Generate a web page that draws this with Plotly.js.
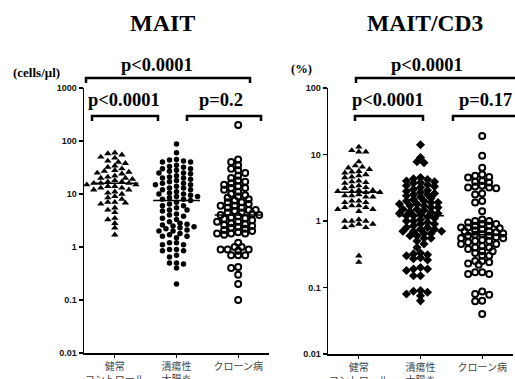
<!DOCTYPE html>
<html><head><meta charset="utf-8">
<script src="https://cdn.plot.ly/plotly-3.0.1.min.js"></script>
<style>html,body{margin:0;padding:0;background:#fff}#chart{width:515px;height:379px}</style>
</head><body><div id="chart"></div>
<script>
// ---- data ----
const categories = ["健常<br>コントロール", "潰瘍性<br>大腸炎", "クローン病"];
const yTickVals1 = [0.01, 0.1, 1, 10, 100, 1000];
const yTickText1 = ["0.01", "0.1", "1", "10", "100", "1000"];
const yTickVals2 = [0.01, 0.1, 1, 10, 100];
const yTickText2 = ["0.01", "0.1", "1", "10", "100"];

const maitHealthy = [60,55,58,48,50,42,40,38,32,30,28,34,26,25,24,22,27,21,20,19,20,18,17,16,16,15,16,17,15,14,13,14,12,13,12,11,10,10.5,9,8,8.5,7,7,6.5,6.8,5.5,5,4.5,3.5,3.3,2.8,2.3,1.7];
const maitUC = [88,60,45,44,42,40,40,35,33,32,30,30,28,27,25,25,24,22,21,20,20,19,18,17,16,16,15,15,14,13,13,12,12,11,10.5,10,10,9.5,9,9,8.5,8,8,7.5,7,6.5,6,6,5.5,5,5,4.8,4.2,4,3.8,3.5,3.3,3,2.8,2.7,2.6,2.5,2.4,2.3,2.2,2.1,2,2,1.8,1.7,1.6,1.6,1.5,1.2,1.2,1.1,1.1,0.9,0.9,0.85,0.85,0.7,0.65,0.5,0.5,0.48,0.4,0.2];
const maitCD = [200,45,40,35,30,28,25,22,20,18,17,16,15,14,13,13,12,11,10,9.5,9,8.5,8,7.5,7,7,6.5,6,6,5.5,5.5,5,5,4.8,4.5,4.5,4.2,4,4,3.8,3.6,3.5,3.4,3.2,3,3,2.8,2.7,2.6,2.5,2.4,2.3,2.2,2.1,2,1.9,1.8,1.8,1.8,1.7,1.2,1.0,1.0,0.9,0.9,0.85,0.9,0.7,0.7,0.7,0.42,0.4,0.3,0.2,0.1];
const cd3Healthy = [13,11.5,11,11,7.8,6.8,6.5,6.3,6,5.6,5.5,5.3,5,4.8,4.6,4.5,4,3.9,3.8,3.7,3.4,3.3,3.2,3.1,2.9,2.9,2.8,2.8,2.7,2.7,2.5,2.4,2.4,2.3,2.3,2.0,2.0,1.9,1.9,1.7,1.7,1.6,1.6,1.5,1.5,1.4,1.05,1.0,1.0,1.0,0.9,0.9,0.85,0.8,0.8,0.3,0.24];
const cd3UC = [14,9,7.5,7.8,4.5,4.3,4.2,4.0,3.9,3.8,3.7,3.5,3.4,3.3,3.2,3.0,2.9,2.8,2.7,2.6,2.5,2.5,2.4,2.3,2.2,2.1,2.0,2.0,1.9,1.9,1.8,1.8,1.7,1.7,1.6,1.6,1.5,1.5,1.45,1.4,1.35,1.3,1.3,1.25,1.2,1.2,1.15,1.1,1.05,1.0,1.0,0.95,0.9,0.9,0.85,0.8,0.8,0.75,0.75,0.7,0.7,0.7,0.65,0.65,0.6,0.6,0.55,0.55,0.5,0.45,0.4,0.33,0.32,0.31,0.3,0.28,0.27,0.26,0.19,0.19,0.18,0.2,0.15,0.15,0.09,0.088,0.085,0.08,0.075,0.063];
const cd3CD = [19,9.6,6.3,5,4.8,4.6,4.5,4.0,3.9,3.8,3.4,3.3,3.2,3.2,3.1,2.6,2.5,2.0,1.9,1.4,1.05,1.0,1.0,0.95,0.9,0.9,0.85,0.85,0.8,0.8,0.78,0.75,0.72,0.7,0.7,0.68,0.65,0.63,0.62,0.6,0.6,0.57,0.55,0.55,0.52,0.5,0.5,0.48,0.45,0.45,0.42,0.4,0.4,0.38,0.35,0.35,0.33,0.3,0.3,0.25,0.25,0.24,0.23,0.22,0.17,0.17,0.16,0.16,0.087,0.08,0.078,0.063,0.062,0.04];
const maitMedians = [16, 7.5, 4];
const cd3Medians = [2.7, 1.2, 0.62];
const pLabelsMait = ["p<0.0001", "p<0.0001", "p=0.2"];
const pLabelsCd3 = ["p<0.0001", "p<0.0001", "p=0.17"];

// ---- geometry (pixels, margins 0) ----
const W = 515, H = 379;
const PX = x => x / W, PY = y => 1 - y / H;
const catPx = 61.5; // pixels per category

// beeswarm with elliptical collision (points may overlap vertically, as in the reference)
function swarm(vals, pxPerDecade, dx0, dy0) {
  const idx = vals.map((v, i) => i).sort((a, b) => vals[b] - vals[a]);
  const placed = [];
  const off = new Array(vals.length).fill(0);
  const step = dx0 / 2;
  idx.forEach(i => {
    const y = Math.log10(vals[i]) * pxPerDecade;
    for (let k = 0; k < 200; k++) {
      const o = (k % 2 === 0 ? 1 : -1) * Math.ceil(k / 2) * step;
      let ok = true;
      for (const p of placed) {
        const ex = (p.x - o) / dx0, ey = (p.y - y) / dy0;
        if (ex * ex + ey * ey < 1) { ok = false; break; }
      }
      if (ok) { off[i] = o; placed.push({x: o, y: y}); break; }
    }
  });
  return off.map(o => o / catPx);
}

function groupTrace(vals, cat, pxPerDecade, marker, xa, ya) {
  const offs = swarm(vals, pxPerDecade, 7, 4.2);
  return {
    type: "scatter", mode: "markers", xaxis: xa, yaxis: ya,
    x: vals.map((v, i) => cat + offs[i]), y: vals,
    marker: marker, hoverinfo: "y", showlegend: false, cliponaxis: false
  };
}

const mTri = {symbol: "triangle-up", size: 6.5, color: "#000"};
const mDot = {symbol: "circle", size: 5.5, color: "#000"};
const mOpen = {symbol: "circle-open", size: 6, color: "#000", line: {width: 2, color: "#000"}};
const mDia = {symbol: "diamond", size: 7, color: "#000"};

const ppd1 = 53, ppd2 = 66.5;
const traces = [
  groupTrace(maitHealthy, 0, ppd1, mTri, "x", "y"),
  groupTrace(maitUC, 1, ppd1, mDot, "x", "y"),
  groupTrace(maitCD, 2, ppd1, mOpen, "x", "y"),
  groupTrace(cd3Healthy, 0, ppd2, mTri, "x2", "y2"),
  groupTrace(cd3UC, 1, ppd2, mDia, "x2", "y2"),
  groupTrace(cd3CD, 2, ppd2, mOpen, "x2", "y2")
];

const shapes = [];
maitMedians.forEach((m, i) => shapes.push({type: "line", xref: "x", yref: "y", x0: i - 0.38, x1: i + 0.38, y0: m, y1: m, line: {color: "#000", width: 1.5}}));
cd3Medians.forEach((m, i) => shapes.push({type: "line", xref: "x2", yref: "y2", x0: i - 0.38, x1: i + 0.38, y0: m, y1: m, line: {color: "#000", width: 1.5}}));

function bracket(x0, x1, y) {
  shapes.push({type: "path", xref: "paper", yref: "paper",
    path: `M ${PX(x0)} ${PY(y + 5)} L ${PX(x0)} ${PY(y)} L ${PX(x1)} ${PY(y)} L ${PX(x1)} ${PY(y + 5)}`,
    line: {color: "#000", width: 2.5}});
}
bracket(86, 250, 78); bracket(92, 158, 116); bracket(187, 261, 116);
bracket(356, 530, 78); bracket(355, 423, 116); bracket(453, 530, 116);

const serif = "Liberation Serif, Times New Roman, serif";
function ann(text, x, y, size) {
  return {text: text, xref: "paper", yref: "paper", x: PX(x), y: PY(y), xanchor: "center", yanchor: "middle",
    showarrow: false, font: {family: serif, size: size, color: "#000", weight: "bold"}};
}
const annotations = [
  ann("<b>MAIT</b>", 162, 23, 24),
  ann("<b>MAIT/CD3</b>", 425, 23, 23.5),
  ann("<b>(cells/μl)</b>", 37, 72, 13),
  ann("<b>(%)</b>", 301, 69, 12.5),
  ann("<b>" + pLabelsMait[0] + "</b>", 157, 65, 18.5),
  ann("<b>" + pLabelsMait[1] + "</b>", 124, 100, 18.5),
  ann("<b>" + pLabelsMait[2] + "</b>", 221, 100, 18.5),
  ann("<b>" + pLabelsCd3[0] + "</b>", 427, 65, 18.5),
  ann("<b>" + pLabelsCd3[1] + "</b>", 388, 100, 18.5),
  ann("<b>" + pLabelsCd3[2] + "</b>", 485, 100, 18.5)
];

const xCommon = {
  range: [-0.5, 2.5], tickvals: [0, 1, 2], ticktext: categories,
  showline: true, linecolor: "#000", linewidth: 1.5, ticks: "outside", ticklen: 3, tickwidth: 1, tickcolor: "#000",
  showgrid: false, zeroline: false, fixedrange: true,
  tickfont: {family: "Noto Sans CJK JP", size: 10, color: "#444"}
};
const yCommon = {
  type: "log", showline: true, linecolor: "#000", linewidth: 1.5, ticks: "outside", ticklen: 4, tickwidth: 1.2, tickcolor: "#000",
  showgrid: false, zeroline: false, fixedrange: true,
  tickfont: {family: "Liberation Sans, Arial, sans-serif", size: 9, color: "#111", weight: "bold"}
};

const layout = {
  width: W, height: H, margin: {l: 0, r: 0, t: 0, b: 0}, paper_bgcolor: "#fff", plot_bgcolor: "#fff",
  showlegend: false,
  xaxis: Object.assign({}, xCommon, {domain: [PX(84), PX(269)], anchor: "y"}),
  yaxis: Object.assign({}, yCommon, {domain: [PY(353), PY(88)], range: [-2, 3], tickvals: yTickVals1, ticktext: yTickText1, anchor: "x"}),
  xaxis2: Object.assign({}, xCommon, {domain: [PX(328), PX(513)], anchor: "y2"}),
  yaxis2: Object.assign({}, yCommon, {domain: [PY(354), PY(88)], range: [-2, 2], tickvals: yTickVals2, ticktext: yTickText2, anchor: "x2"}),
  shapes: shapes, annotations: annotations
};

Plotly.newPlot("chart", traces, layout, {displayModeBar: false, staticPlot: true});
</script></body></html>
